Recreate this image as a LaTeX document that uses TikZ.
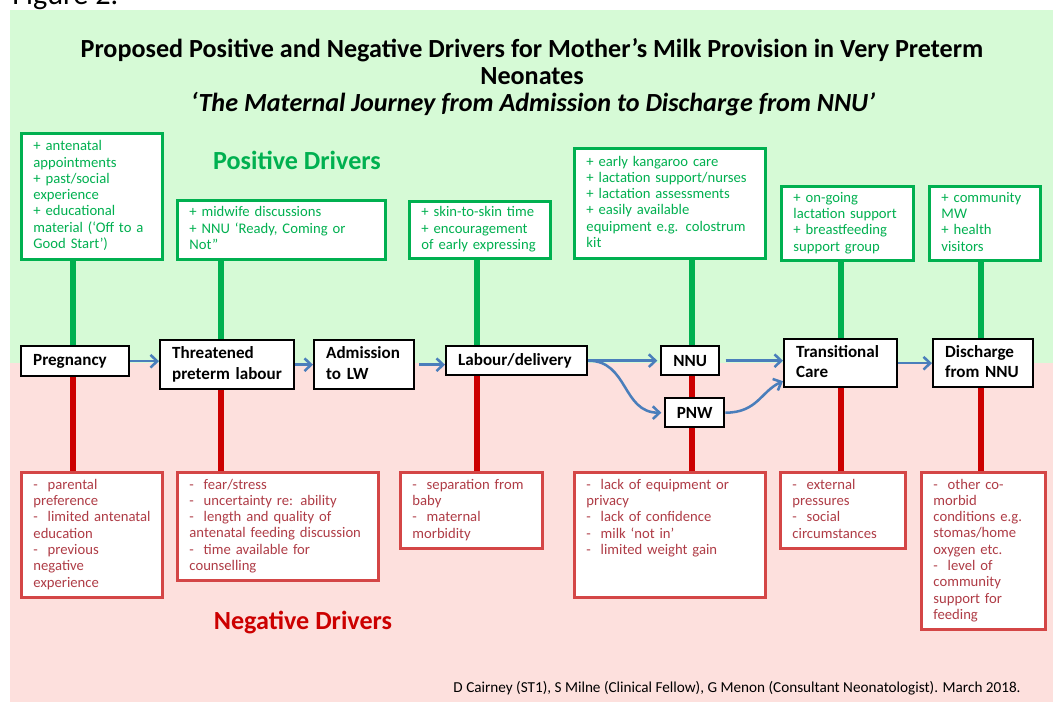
\documentclass[tikz,border=0pt]{standalone}
\usepackage{fontspec}
\setmainfont{Carlito}
\usetikzlibrary{arrows.meta}
\pgfdeclarelayer{bglayer}
\pgfdeclarelayer{stemlayer}
\pgfsetlayers{bglayer,stemlayer,main}
\definecolor{gbg}{RGB}{214,250,214}
\definecolor{rbg}{RGB}{253,224,221}
\definecolor{gline}{RGB}{0,176,80}
\definecolor{rline}{RGB}{204,0,0}
\definecolor{rborder}{RGB}{212,70,70}
\definecolor{rtext}{RGB}{175,60,70}
\definecolor{flowblue}{RGB}{74,126,187}
\newcommand{\bl}[1]{\begin{tabular}{@{}l@{}}#1\end{tabular}}
\tikzset{
  drvbox/.style={fill=white, line width=2.2pt, anchor=north west, align=left,
    inner xsep=9pt, inner ysep=0pt, font=\fontsize{11}{12.2}\selectfont},
  gbox/.style={drvbox, draw=gline, text=gline},
  rbox/.style={drvbox, draw=rborder, text=rtext},
  mbox/.style={draw=black, fill=white, line width=1.8pt, anchor=north west, align=left,
    inner xsep=9pt, inner ysep=0pt, font=\bfseries\fontsize{12.8}{15.5}\selectfont},
  cbox/.style={mbox, align=center, inner xsep=0pt},
  gstem/.style={draw=gline, line width=4.2pt},
  rstem/.style={draw=rline, line width=4.2pt},
  flow/.style={draw=flowblue, line width=1.9pt, -{Straight Barb[length=5pt,width=9.5pt]}},
  drivers/.style={font=\bfseries\fontsize{19.6}{22}\selectfont},
}
\begin{document}
\begin{tikzpicture}[x=0.75pt,y=-0.75pt]
\useasboundingbox (0,0) rectangle (1053,702);
% backgrounds
\begin{pgfonlayer}{bglayer}
\fill[gbg] (10,10) rectangle (1053,363);
\fill[rbg] (10,363) rectangle (1053,702);
\end{pgfonlayer}
\node[anchor=base west, inner sep=0pt, font=\fontsize{22.7}{26}\selectfont] (fig) at (12,5) {Figure 2.};

% titles
\node[align=center, font=\bfseries\fontsize{19.6}{20.3}\selectfont] (title) at (532,62)
  {Proposed Positive and Negative Drivers for Mother’s Milk Provision in Very Preterm\\Neonates};
\node[font=\bfseries\itshape\fontsize{19.6}{22}\selectfont] (subtitle) at (533,104)
  {‘The Maternal Journey from Admission to Discharge from NNU’};
\node[drivers, text=gline] (pos) at (297,160) {Positive Drivers};
\node[drivers, text=rline] (neg) at (303,623) {Negative Drivers};
\node[anchor=east, inner sep=0pt, font=\fontsize{11.4}{13}\selectfont] (foot) at (1021,688)
  {D Cairney (ST1), S Milne (Clinical Fellow), G Menon (Consultant Neonatologist). March 2018.};

% stem positions
\coordinate (c1) at (73,0);
\coordinate (c2) at (221,0);
\coordinate (c3) at (477,0);
\coordinate (c4) at (692,0);
\coordinate (c5) at (841,0);
\coordinate (c6) at (981,0);

% positive driver boxes
\node[gbox, minimum width=105.75pt, minimum height=94.5pt, text width=87.75pt] (g1) at (20,132)
  {\bl{+ antenatal\\appointments\\+ past/social\\experience\\+ educational\\material (‘Off to a\\Good Start’)}};
\node[gbox, minimum width=156pt, minimum height=44.25pt, text width=138pt] (g2) at (176,199)
  {\bl{+ midwife discussions\\+ NNU ‘Ready, Coming or\\Not”}};
\node[gbox, minimum width=105.75pt, minimum height=42.75pt, text width=87.75pt] (g3) at (408,200)
  {\bl{+ skin-to-skin time\\+ encouragement\\of early expressing}};
\node[gbox, minimum width=143.25pt, minimum height=82.5pt, text width=125.25pt] (g4) at (573,147)
  {\bl{+ early kangaroo care\\+ lactation support/nurses\\+ lactation assessments\\+ easily available\\equipment e.g. colostrum\\kit}};
\node[gbox, minimum width=99pt, minimum height=55.5pt, text width=81pt] (g5) at (780,185)
  {\bl{+ on-going\\lactation support\\+ breastfeeding\\support group}};
\node[gbox, minimum width=83.25pt, minimum height=55.5pt, text width=65.25pt] (g6) at (928,185)
  {\bl{+ community\\MW\\+ health\\visitors}};

% negative driver boxes
\node[rbox, minimum width=105.75pt, minimum height=93.75pt, text width=87.75pt] (r1) at (20,471)
  {\bl{-\ \ parental\\preference\\-\ \ limited antenatal\\education\\-\ \ previous\\negative\\experience}};
\node[rbox, minimum width=150.75pt, minimum height=81pt, text width=132.75pt] (r2) at (176,471)
  {\bl{-\ \ fear/stress\\-\ \ uncertainty re: ability\\-\ \ length and quality of\\antenatal feeding discussion\\-\ \ time available for\\counselling}};
\node[rbox, minimum width=106.5pt, minimum height=57pt, text width=88.5pt] (r3) at (399,471)
  {\bl{-\ \ separation from\\baby\\-\ \ maternal\\morbidity}};
\node[rbox, minimum width=143.25pt, minimum height=93.75pt, text width=125.25pt] (r4) at (573,471)
  {\bl{-\ \ lack of equipment or\\privacy\\-\ \ lack of confidence\\-\ \ milk ‘not in’\\-\ \ limited weight gain\\~\\~}};
\node[rbox, minimum width=93.75pt, minimum height=57pt, text width=75.75pt] (r5) at (779,471)
  {\bl{-\ \ external\\pressures\\-\ \ social\\circumstances}};
\node[rbox, minimum width=93pt, minimum height=117.75pt, text width=75pt] (r6) at (920,471)
  {\bl{-\ \ other co-\\morbid\\conditions e.g.\\stomas/home\\oxygen etc.\\-\ \ level of\\community\\support for\\feeding}};

% main journey boxes
\node[mbox, minimum width=81pt, minimum height=22.5pt, text width=63pt] (preg) at (20,345) {Pregnancy};
\node[mbox, minimum width=100.5pt, minimum height=36.75pt, text width=82.5pt] (thr) at (159,339) {\bl{Threatened\\preterm labour}};
\node[mbox, minimum width=75pt, minimum height=36.75pt, text width=57pt] (adm) at (313,339) {\bl{Admission\\to LW}};
\node[mbox, minimum width=105.75pt, minimum height=21.75pt, text width=87.75pt] (lab) at (445,345) {Labour/delivery};
\node[cbox, minimum width=43.5pt, minimum height=21.75pt] (nnu) at (660,345) {NNU};
\node[cbox, minimum width=44.25pt, minimum height=21.75pt] (pnw) at (664,397) {PNW};
\node[mbox, minimum width=84.75pt, minimum height=36pt, text width=66.75pt] (trans) at (783,338) {\bl{Transitional\\Care}};
\node[mbox, minimum width=75pt, minimum height=36pt, text width=57pt] (dis) at (932,338) {\bl{Discharge\\from NNU}};

% stems
\begin{pgfonlayer}{stemlayer}
\draw[gstem] (c1 |- g1.south) -- (c1 |- preg.north);
\draw[gstem] (c2 |- g2.south) -- (c2 |- thr.north);
\draw[gstem] (c3 |- g3.south) -- (c3 |- lab.north);
\draw[gstem] (c4 |- g4.south) -- (c4 |- nnu.north);
\draw[gstem] (c5 |- g5.south) -- (c5 |- trans.north);
\draw[gstem] (c6 |- g6.south) -- (c6 |- dis.north);
\draw[rstem] (c1 |- preg.south) -- (c1 |- r1.north);
\draw[rstem] (c2 |- thr.south) -- (c2 |- r2.north);
\draw[rstem] (c3 |- lab.south) -- (c3 |- r3.north);
\draw[rstem] (c4 |- nnu.south) -- (c4 |- pnw.north);
\draw[rstem] (c4 |- pnw.south) -- (c4 |- r4.north);
\draw[rstem] (c5 |- trans.south) -- (c5 |- r5.north);
\draw[rstem] (c6 |- dis.south) -- (c6 |- r6.north);
\end{pgfonlayer}

% flow arrows
\draw[flow] (preg.east) -- (preg.east -| thr.west);
\draw[flow] (thr.east) -- (adm.west);
\draw[flow, shorten <=3pt] (adm.east) -- (adm.east -| lab.west);
\draw[flow, shorten >=2pt] (lab.east) -- (nnu.west);
\draw[flow, shorten >=2pt] (lab.east) .. controls +(40,0) and +(-42,0) .. (pnw.west);
\draw[flow, shorten <=4pt] (nnu.east) -- (nnu.east -| trans.west);
\draw[flow] (pnw.east) .. controls +(32,0) and +(-22,10) .. ([yshift=-13.5pt]trans.west);
\draw[flow] (trans.east) -- (dis.west);
\end{tikzpicture}
\end{document}
